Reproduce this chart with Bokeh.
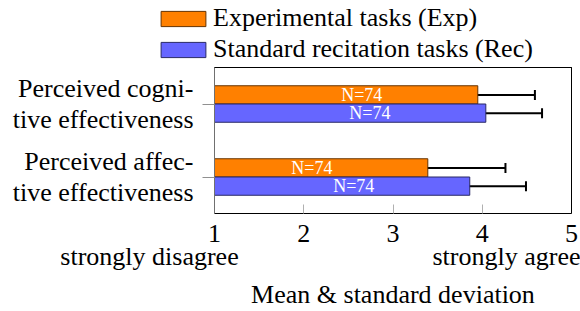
from bokeh.plotting import figure
from bokeh.layouts import column
from bokeh.models import (FactorRange, Range1d, ColumnDataSource, Whisker, TeeHead,
                          Legend, LegendItem, LinearAxis)
from bokeh.transform import dodge
from bokeh.core.properties import value
from bokeh.embed import file_html
from bokeh.resources import INLINE

# ---- data ----
categories = ["Perceived cogni-\ntive effectiveness", "Perceived affec-\ntive effectiveness"]
exp_mean = [3.95, 3.39]
exp_sd = [0.64, 0.87]
rec_mean = [4.04, 3.86]
rec_sd = [0.63, 0.63]
exp_n = [74, 74]
rec_n = [74, 74]
x_ticks = [1, 2, 3, 4, 5]
scale_low = "strongly disagree"
scale_high = "strongly agree"
series_names = ["Experimental tasks (Exp)", "Standard recitation tasks (Rec)"]
x_title = "Mean & standard deviation"

# ---- styles ----
FONT = "Liberation Serif"
FS = "26px"
ORANGE, ORANGE_EDGE = "#FF8000", "#663300"
BLUE, BLUE_EDGE = "#6666FF", "#292966"
BAR_H = 0.25
NBSP = "\u00a0"
styles = [(ORANGE, ORANGE_EDGE), (BLUE, BLUE_EDGE)]

def make_source(means, sds, ns):
    return ColumnDataSource(dict(
        cat=categories,
        mean=means,
        lower=[m - s for m, s in zip(means, sds)],
        upper=[m + s for m, s in zip(means, sds)],
        nlab=["N=%d" % n for n in ns],
    ))

sources = [make_source(exp_mean, exp_sd, exp_n), make_source(rec_mean, rec_sd, rec_n)]

def no_align(fig):
    if hasattr(fig, "frame_align"):
        fig.frame_align = False

# ---------- legend strip (own figure, frame = whole strip) ----------
leg = figure(width=580, height=64, x_range=Range1d(0, 1), y_range=Range1d(0, 1),
             x_axis_type=None, y_axis_type=None, output_backend="svg", toolbar_location=None,
             min_border=0, min_border_left=0, min_border_right=0,
             min_border_top=0, min_border_bottom=0)
no_align(leg)
leg.outline_line_color = None
leg.xgrid.visible = False
leg.ygrid.visible = False
leg_items = []
for name, src, (fc, lc) in zip(series_names, sources, styles):
    # proxy bars (zero size, outside this strip's ranges) that only style the legend keys
    r = leg.hbar(y="mean", left="mean", right="mean", height=0, source=src,
                 fill_color=fc, line_color=lc, line_width=1)
    leg_items.append(LegendItem(label=name, renderers=[r]))
legend = Legend(items=leg_items, location=(155, 0), orientation="vertical",
                glyph_width=56, glyph_height=19, label_standoff=2, label_height=30,
                spacing=1, padding=0, margin=0,
                border_line_color=None, background_fill_alpha=0,
                label_text_font=FONT, label_text_font_size=FS, label_text_color="black",
                label_text_baseline="alphabetic")
leg.add_layout(legend)

# ---------- main chart ----------
p = figure(width=580, height=247,
           x_range=Range1d(x_ticks[0], x_ticks[-1]),
           y_range=FactorRange(factors=categories[::-1], range_padding=0, factor_padding=0),
           output_backend="svg", toolbar_location=None,
           min_border_left=214, min_border_right=9, min_border_top=3, min_border_bottom=90)
no_align(p)

p.background_fill_color = "white"
p.border_fill_color = "white"
p.outline_line_color = "black"
p.outline_line_width = 1
p.xgrid.visible = False
p.ygrid.visible = False

for src, off, (fc, lc) in zip(sources, [0.125, -0.125], styles):
    yy = dodge("cat", off, range=p.y_range)
    p.hbar(y=yy, left=x_ticks[0], right="mean", height=BAR_H, source=src,
           fill_color=fc, line_color=lc, line_width=1)
    p.text(x="mean", y=yy, text="nlab", source=src, x_offset=-116,
           text_color="white", text_font=value(FONT), text_font_size="18px",
           text_align="center", text_baseline="middle")
    w = Whisker(base=yy, lower="lower", upper="upper", dimension="width", source=src,
                line_color="black", line_width=2,
                lower_head=TeeHead(size=10, line_width=2, line_color="black"),
                upper_head=TeeHead(size=10, line_width=2, line_color="black"))
    p.add_layout(w)

# x axis: numbers, with the scale-end wordings under the first and last tick
xa = p.xaxis[0]
xa.ticker = x_ticks
xa.major_label_overrides = {
    x_ticks[0]: "%d\n%s%s" % (x_ticks[0], scale_low, NBSP * 20),
    x_ticks[-1]: "%s%d\n%s" % (NBSP * 20, x_ticks[-1], scale_high),
}
xa.major_tick_in = 9
xa.major_tick_out = 0
xa.minor_tick_in = 0
xa.minor_tick_out = 0
xa.major_tick_line_color = "#b0b0b0"
xa.axis_line_color = "black"
xa.major_label_text_font = FONT
xa.major_label_text_font_size = FS
xa.major_label_text_color = "black"
xa.major_label_text_line_height = 0.8
xa.major_label_standoff = 5
xa.axis_label = x_title
xa.axis_label_text_font = FONT
xa.axis_label_text_font_size = FS
xa.axis_label_text_font_style = "normal"
xa.axis_label_text_color = "black"
xa.axis_label_standoff = 6

ya = p.yaxis[0]
ya.major_tick_in = 0
ya.major_tick_out = 12
ya.major_tick_line_color = "#909090"
ya.axis_line_color = "#707070"
ya.major_label_text_font = FONT
ya.major_label_text_font_size = FS
ya.major_label_text_color = "black"
ya.major_label_standoff = 9
ya.major_label_text_line_height = 1.05

# frame lines on top and right
for side in ("above", "right"):
    ax = LinearAxis(ticker=[], axis_line_color="black", major_tick_in=0, major_tick_out=0,
                    minor_tick_in=0, minor_tick_out=0, major_label_text_alpha=0,
                    major_label_standoff=0)
    p.add_layout(ax, side)

open("out.html", "w").write(file_html(column(leg, p), INLINE))
